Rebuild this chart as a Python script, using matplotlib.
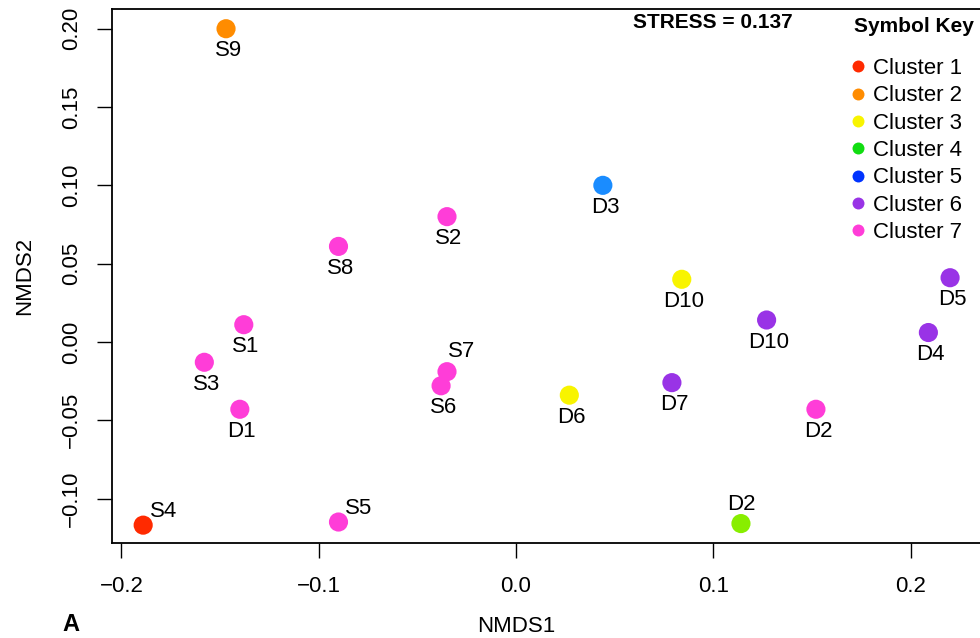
import matplotlib
matplotlib.use("Agg")
import matplotlib.pyplot as plt
from matplotlib.lines import Line2D

plt.rcParams['font.family'] = ['Liberation Sans', 'DejaVu Sans']

# NMDS site scores
labels = ['S9', 'S8', 'S2', 'D3', 'S1', 'S3', 'D1', 'S4', 'S5', 'S7', 'S6',
          'D10', 'D10', 'D5', 'D4', 'D6', 'D7', 'D2', 'D2']
nmds1 = [-0.147, -0.090, -0.035, 0.044, -0.138, -0.158, -0.140, -0.189, -0.090, -0.035, -0.038,
         0.084, 0.127, 0.220, 0.209, 0.027, 0.079, 0.152, 0.114]
nmds2 = [0.200, 0.061, 0.080, 0.100, 0.011, -0.013, -0.043, -0.117, -0.115, -0.019, -0.028,
         0.040, 0.014, 0.041, 0.006, -0.034, -0.026, -0.043, -0.116]
cluster = [2, 7, 7, 5, 7, 7, 7, 1, 7, 7, 7,
           3, 6, 6, 6, 3, 6, 7, 4]
label_pos = ['b', 'b', 'b', 'b', 'b', 'b', 'b', 'ar', 'ar', 'ne', 'b',
             'b', 'b', 'b', 'b', 'b', 'b', 'b', 'a']

cluster_names = ['Cluster 1', 'Cluster 2', 'Cluster 3', 'Cluster 4',
                 'Cluster 5', 'Cluster 6', 'Cluster 7']
point_colors = ['#ff2a00', '#ff8c00', '#f8f400', '#88ee00', '#1a8cff', '#9933e6', '#ff3dd8']
key_colors = ['#ff2a00', '#ff8c00', '#f8f400', '#11dd11', '#0033ff', '#9933e6', '#ff3dd8']
stress = 0.137

fig = plt.figure(figsize=(9.8, 6.38), dpi=100)
W, H = 980, 638
# axes box: left 112px, top 9px, bottom 543px, right runs off the picture
ax = fig.add_axes([112 / W, 1 - 543 / H, (1000 - 112) / W, (543 - 9) / H])
ax.set_xlim(-0.2048, 0.2453)
ax.set_ylim(-0.1284, 0.2126)

cols = [point_colors[c - 1] for c in cluster]
ax.scatter(nmds1, nmds2, s=190, c=cols, edgecolors='none', zorder=3, clip_on=False)

offsets = {'b': ((1.5, -16), 'center'), 'a': ((0.5, 14), 'center'),
           'ar': ((5, 10), 'left'), 'ne': ((1, 14.5), 'left')}
for lab, x, y, p in zip(labels, nmds1, nmds2, label_pos):
    off, ha = offsets[p]
    ax.annotate(lab, (x, y), xytext=off, textcoords='offset points',
                ha=ha, va='center', fontsize=16, zorder=4)

ax.set_xticks([-0.2, -0.1, 0.0, 0.1, 0.2])
ax.set_xticklabels(['\u22120.2', '\u22120.1', '0.0', '0.1', '0.2'])
ax.set_yticks([-0.10, -0.05, 0.00, 0.05, 0.10, 0.15, 0.20])
ax.set_yticklabels(['\u22120.10', '\u22120.05', '0.00', '0.05', '0.10', '0.15', '0.20'])
ax.tick_params(direction='out', length=10.5, width=1, labelsize=16, color='black')
ax.tick_params(axis='x', pad=13)
ax.tick_params(axis='y', pad=11)
for t in ax.get_yticklabels():
    t.set_rotation(90)
    t.set_va('center')
for s in ax.spines.values():
    s.set_linewidth(1.3)

fig.text(516 / W, 1 - 627 / H, 'NMDS1', ha='center', va='center', fontsize=16)
fig.text(25 / W, 1 - 276 / H, 'NMDS2', ha='center', va='center', fontsize=16, rotation=90)
fig.text(713 / W, 1 - 22 / H, 'STRESS = %.3f' % stress, ha='center', va='center',
         fontsize=15, fontweight='bold')
fig.text(914 / W, 1 - 26 / H, 'Symbol Key', ha='center', va='center',
         fontsize=15, fontweight='bold')
fig.text(62 / W, 1 - 636 / H, 'A', ha='left', va='bottom', fontsize=17, fontweight='bold')

handles = [Line2D([], [], marker='o', linestyle='none', markersize=8.6,
                  markerfacecolor=c, markeredgecolor='none') for c in key_colors]
fig.legend(handles, cluster_names, loc='upper left', bbox_to_anchor=(852 / W, 1 - 58 / H),
           frameon=False, fontsize=16, handlelength=0.56, handletextpad=0.38,
           labelspacing=0.285, borderpad=0, borderaxespad=0)

fig.savefig('out.png', dpi=100)
